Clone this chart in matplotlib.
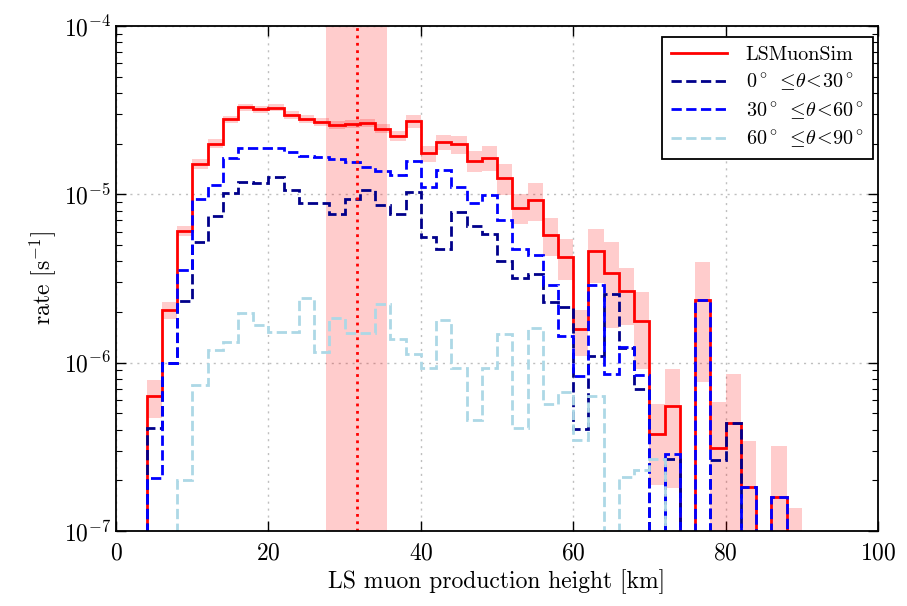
import numpy as np
import matplotlib
matplotlib.use("Agg")
import matplotlib.pyplot as plt

plt.rcParams["font.family"] = ["cmr10", "DejaVu Serif"]
plt.rcParams["mathtext.fontset"] = "cm"
plt.rcParams["axes.formatter.use_mathtext"] = True
plt.rcParams["axes.unicode_minus"] = False

# production height bins [km]
edges = np.arange(4, 92, 2)

# total rate per bin [1/s] and its uncertainty
rate_total = [6.3e-7, 2.05e-6, 6.05e-6, 1.52e-5, 2.0e-5, 2.79e-5, 3.30e-5, 3.2e-5, 3.28e-5,
              2.97e-5, 2.82e-5, 2.69e-5, 2.58e-5, 2.63e-5, 2.67e-5, 2.45e-5, 2.23e-5, 2.72e-5,
              1.75e-5, 2.05e-5, 1.98e-5, 1.58e-5, 1.65e-5, 1.25e-5, 8.34e-6, 9.3e-6, 5.75e-6,
              4.24e-6, 1.58e-6, 4.58e-6, 3.41e-6, 2.67e-6, 1.77e-6, 3.78e-7, 5.5e-7, 0.0,
              2.37e-6, 3.11e-7, 4.35e-7, 1.81e-7, 0.0, 1.58e-7, 6.8e-8]
rate_err = [1.6e-7, 2.4e-7, 3.9e-7, 1.1e-6, 1.2e-6, 1.5e-6, 1.6e-6, 1.6e-6, 1.6e-6,
            1.5e-6, 1.5e-6, 1.5e-6, 1.4e-6, 1.4e-6, 1.5e-6, 1.5e-6, 1.5e-6, 2.4e-6,
            2.0e-6, 2.1e-6, 2.4e-6, 2.3e-6, 2.8e-6, 2.6e-6, 1.7e-6, 2.4e-6, 1.45e-6,
            1.15e-6, 4.8e-7, 1.6e-6, 1.8e-6, 1.0e-6, 8.5e-7, 1.9e-7, 3.7e-7, 0.0,
            1.6e-6, 2.7e-7, 4.25e-7, 1.6e-7, 0.0, 1.6e-7, 6.8e-8]

# contributions by zenith angle range
rate_0_30 = [4.1e-7, 1.0e-6, 2.31e-6, 5.21e-6, 7.4e-6, 1.02e-5, 1.18e-5, 1.16e-5, 1.26e-5,
             1.06e-5, 8.9e-6, 8.9e-6, 7.67e-6, 9.33e-6, 1.06e-5, 8.6e-6, 7.67e-6, 1.03e-5,
             5.57e-6, 4.75e-6, 7.85e-6, 6.46e-6, 5.78e-6, 4.0e-6, 3.18e-6, 3.38e-6, 2.29e-6,
             2.14e-6, 4.05e-7, 1.09e-6, 2.57e-6, 1.22e-6, 7.0e-7, 0.0, 2.69e-7, 0.0,
             0.0, 2.62e-7, 4.35e-7, 0.0, 0.0, 0.0, 0.0]
rate_30_60 = [2.05e-7, 1.0e-6, 3.53e-6, 9.42e-6, 1.14e-5, 1.64e-5, 1.89e-5, 1.89e-5, 1.89e-5,
              1.78e-5, 1.68e-5, 1.66e-5, 1.63e-5, 1.55e-5, 1.46e-5, 1.37e-5, 1.31e-5, 1.58e-5,
              1.11e-5, 1.40e-5, 1.11e-5, 8.83e-6, 9.86e-6, 7.08e-6, 4.75e-6, 4.35e-6, 2.89e-6,
              1.44e-6, 8.3e-7, 2.88e-6, 8.6e-7, 1.24e-6, 8.4e-7, 0.0, 2.85e-7, 0.0,
              2.37e-6, 5.0e-8, 0.0, 1.81e-7, 0.0, 1.58e-7, 6.8e-8]
rate_60_90 = [0.0, 0.0, 2.0e-7, 7.4e-7, 1.19e-6, 1.32e-6, 1.97e-6, 1.67e-6, 1.52e-6,
              1.52e-6, 2.42e-6, 1.16e-6, 1.85e-6, 1.50e-6, 1.50e-6, 2.22e-6, 1.39e-6, 1.12e-6,
              9.3e-7, 1.80e-6, 9.3e-7, 4.54e-7, 9.3e-7, 1.47e-6, 4.09e-7, 1.61e-6, 5.7e-7,
              6.69e-7, 3.45e-7, 6.3e-7, 0.0, 2.09e-7, 2.29e-7, 2.69e-7, 0.0, 0.0,
              0.0, 0.0, 0.0, 0.0, 0.0, 0.0, 0.0]

# mean production height and spread [km]
height_mean = 31.6
height_std = 4.0

labels = ["LSMuonSim",
          r"$0^\circ\ \leq\!\theta\!<\!30^\circ$",
          r"$30^\circ\ \leq\!\theta\!<\!60^\circ$",
          r"$60^\circ\ \leq\!\theta\!<\!90^\circ$"]

fig = plt.figure(figsize=(9.07, 6.06), dpi=100)
ax = fig.add_axes([0.128, 0.124, 0.840, 0.833])
ax.set_yscale("log", nonpositive="clip")

tot = np.array(rate_total)
err = np.array(rate_err)
lo = np.clip(tot - err, 1e-12, None)
hi = tot + err
ax.fill_between(edges, np.append(lo, lo[-1]), np.append(hi, hi[-1]), step="post",
                color="red", alpha=0.2, linewidth=0)

ax.axvspan(height_mean - height_std, height_mean + height_std, color="red", alpha=0.2,
           linewidth=0)
ax.axvline(height_mean, color="red", linestyle=":", linewidth=2)

ax.stairs(rate_total, edges, baseline=0, color="red", linewidth=2, label=labels[0])
ax.stairs(rate_0_30, edges, baseline=0, color="darkblue", linewidth=2, linestyle="--",
          label=labels[1])
ax.stairs(rate_30_60, edges, baseline=0, color="blue", linewidth=2, linestyle="--",
          label=labels[2])
ax.stairs(rate_60_90, edges, baseline=0, color="lightblue", linewidth=2, linestyle="--",
          label=labels[3])

ax.set_xlim(0, 100)
ax.set_ylim(1e-7, 1e-4)
ax.set_xticks([0, 20, 40, 60, 80, 100])
ax.grid(True, which="major", color="0.75", linestyle=(0, (1.5, 3.5)), linewidth=1.0)
ax.set_axisbelow(True)

for s in ax.spines.values():
    s.set_linewidth(1.3)
ax.tick_params(which="both", direction="in", top=True, right=True, labelsize=17)
ax.tick_params(which="major", length=7, width=1)
ax.tick_params(which="minor", length=4, width=0.8)
ax.tick_params(axis="x", pad=8)

ax.set_xlabel("LS muon production height [km]", fontsize=17)
ax.set_ylabel(r"rate [s$^{-1}$]", fontsize=17)

leg = ax.legend(loc="upper right", bbox_to_anchor=(0.993, 0.978), borderaxespad=0,
                fontsize=14.5, fancybox=False, framealpha=1, edgecolor="black",
                borderpad=0.45, labelspacing=0.35, handlelength=2.8, handletextpad=0.9)
leg.get_frame().set_linewidth(1.3)

fig.savefig("out.png", dpi=100)
